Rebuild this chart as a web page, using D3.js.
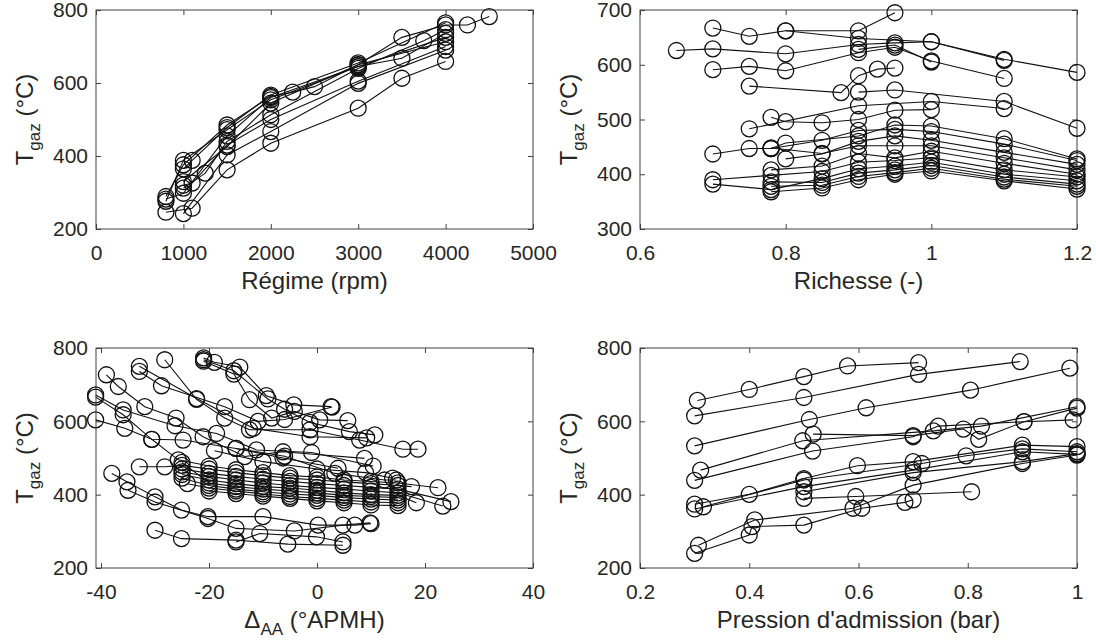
<!DOCTYPE html>
<html><head><meta charset="utf-8">
<script src="https://cdn.jsdelivr.net/npm/d3@7"></script>
<style>
body{margin:0;background:#fff}
text{font-family:"Liberation Sans",Arial,Helvetica,sans-serif;fill:#262626}
</style></head>
<body><svg id="c" width="1096" height="642"></svg>
<script>
// ---------- DATA ----------
// Panel 1 : Régime (rpm) vs T_gaz
const regimeTicks = [0, 1000, 2000, 3000, 4000, 5000];
const regimeTempTicks = [200, 400, 600, 800];
const regimeSeries = [
  [[800,289],[1000,376],[1500,485],[2000,563],[2250,575],[2500,590],[3000,650],[3500,725],[4000,759],[4250,759],[4500,782]],
  [[800,276],[1000,388],[1500,472],[2000,554],[3000,645],[3500,668],[4000,736]],
  [[800,246],[1100,257],[1500,362],[2000,435],[3000,531],[3500,613],[4000,659]],
  [[1000,242],[1500,403],[2000,467],[3000,599],[4000,690]],
  [[1000,312],[1250,353],[1500,440],[2000,513],[3000,640],[3750,716],[4000,746]],
  [[1000,330],[1500,426],[2000,545],[3000,650],[4000,713]],
  [[800,282],[1000,298],[1500,455],[2000,560],[3000,645],[4000,725]],
  [[1000,320],[1100,326],[1500,430],[2000,500],[3000,605],[4000,700]],
  [[1000,365],[1100,388],[1500,478],[2000,567],[3000,655],[4000,765]]
];

// Panel 2 : Richesse (-) vs T_gaz
const richTicks = [0.6, 0.8, 1, 1.2];
const richTempTicks = [300, 400, 500, 600, 700];
const richSeries = [
  [[0.70,667],[0.75,652],[0.80,662],[0.90,662],[0.95,695]],
  [[0.80,662],[0.90,648],[1.0,642],[1.1,610],[1.2,586]],
  [[0.65,626],[0.70,629],[0.80,620],[0.90,637],[0.95,640],[1.0,642],[1.1,608]],
  [[0.70,591],[0.75,597],[0.80,589],[0.90,622],[0.95,632],[1.0,607],[1.1,575]],
  [[0.90,628],[0.95,636],[1.0,605]],
  [[0.75,561],[0.876,549],[0.90,580],[0.926,592],[0.95,594]],
  [[0.90,550],[0.95,554],[1.1,533],[1.2,484]],
  [[0.75,483],[0.90,525],[1.0,533],[1.1,520]],
  [[0.78,504],[0.80,496],[0.85,494],[0.90,500],[0.95,517],[1.0,518]],
  [[0.70,437],[0.75,447],[0.78,447],[0.80,457],[0.90,470],[0.95,490],[1.0,488],[1.1,465],[1.2,428]],
  [[0.78,447],[0.85,462],[0.90,480],[0.95,482],[1.0,478],[1.1,455],[1.2,425]],
  [[0.80,428],[0.85,437],[0.90,460],[0.95,470],[1.0,462],[1.1,440],[1.2,418]],
  [[0.78,448],[0.85,438],[0.90,452],[0.95,452],[1.0,452],[1.1,430],[1.2,408]],
  [[0.78,408],[0.85,415],[0.90,438],[0.95,430],[1.0,442],[1.1,420],[1.2,400]],
  [[0.70,390],[0.78,398],[0.85,405],[0.90,422],[0.95,425],[1.0,430],[1.1,408],[1.2,395]],
  [[0.70,382],[0.78,372],[0.85,392],[0.90,410],[0.95,415],[1.0,422],[1.1,400],[1.2,388]],
  [[0.78,386],[0.85,385],[0.90,402],[0.95,408],[1.0,416],[1.1,395],[1.2,382]],
  [[0.78,378],[0.85,380],[0.90,396],[0.95,403],[1.0,411],[1.1,391],[1.2,378]],
  [[0.78,368],[0.85,375],[0.90,390],[0.95,400],[1.0,406],[1.1,388],[1.2,373]]
];

// Panel 3 : Delta_AA (°APMH) vs T_gaz
const avanceTicks = [-40, -20, 0, 20, 40];
const avanceTempTicks = [200, 400, 600, 800];
const avanceSeries = [
  [[-21,773],[-19,761],[-14.3,748],[-9.4,670],[-4.3,645],[2.6,640]],
  [[-21,764],[-15.4,729],[-12.5,659],[-8.4,609],[-4.2,627],[0.5,604],[5.7,602]],
  [[-21,768],[-15.4,738],[-9.1,661],[-6,633],[-1.3,597],[6,572],[10.7,563]],
  [[-28.2,768],[-22.3,660],[-17.1,609],[-12.5,577],[-1.3,577],[7.9,549],[15.9,524],[18.7,524]],
  [[-32.9,750],[-22.3,662],[-11.8,581],[-1.3,558],[9.2,555]],
  [[-32.9,736],[-28.8,697],[-17.1,640],[-10.9,600],[-6,605],[2.8,639]],
  [[-39,727],[-36.8,695],[-31.9,640],[-26.1,609],[-21.1,558],[-13.4,504],[-6.3,517],[8.8,499]],
  [[-41,672],[-35.9,631],[-26.3,588],[-18.6,567],[-11.2,522],[-1,515],[10.4,478]],
  [[-41,666],[-35.9,618],[-30.6,551],[-24.8,549],[-15,526],[-6.3,500],[3.9,472]],
  [[-41,604],[-35.6,581],[-30.6,551],[-25.7,495],[-20,478],[-15,468],[-10,460],[-5,452],[0,448],[5,440],[10,436],[15,432],[22.4,419]],
  [[-32.9,476],[-28.2,476],[-25,480],[-20,470],[-15,460],[-10,452],[-5,445],[0,440],[5,435],[10,430],[15,425],[17.5,422]],
  [[-25,470],[-20,458],[-15,450],[-10,442],[-5,436],[0,430],[5,425],[10,420],[15,415],[24.8,381]],
  [[-25,462],[-20,450],[-15,440],[-10,432],[-5,425],[0,420],[5,415],[10,410],[15,405],[23.3,369]],
  [[-25,455],[-20,440],[-15,430],[-10,422],[-5,418],[0,412],[5,405],[10,400],[15,398],[18.4,378]],
  [[-25,488],[-20,432],[-15,422],[-10,415],[-5,410],[0,405],[5,398],[10,395],[15,392]],
  [[-25,445],[-20,425],[-15,415],[-10,408],[-5,402],[0,398],[5,392],[10,388],[15,385]],
  [[-24,430],[-20,418],[-15,410],[-10,402],[-5,395],[0,390],[5,385],[10,380],[15,378]],
  [[-20,410],[-15,403],[-10,396],[-5,390],[0,383],[5,378],[10,372],[15,370]],
  [[-15,526],[-6,505],[3.3,458],[12.5,440],[14.7,440]],
  [[-19,520],[-10,490],[0,470],[9,460],[14,445]],
  [[-38,458],[-35.2,435],[-30,394],[-25.1,358],[-20.2,340],[-10,340],[0.2,317],[7,317],[10,321]],
  [[-35,412],[-30,380],[-20.2,335],[-15,308],[-4.2,301],[4.8,317],[9.8,323]],
  [[-30,303],[-25.1,280],[-15,276],[-5.4,265],[4.8,262]],
  [[-15,271],[-10.6,294],[-0.1,285],[4.8,271]]
];

// Panel 4 : Pression d'admission (bar) vs T_gaz
const pressTicks = [0.2, 0.4, 0.6, 0.8, 1];
const pressTempTicks = [200, 400, 600, 800];
const pressSeries = [
  [[0.305,657],[0.40,687],[0.50,722],[0.58,751],[0.71,760]],
  [[0.30,615],[0.50,665],[0.71,728],[0.896,763]],
  [[0.30,533],[0.51,605],[0.614,637],[0.805,685],[0.987,745]],
  [[0.311,467],[0.498,547],[0.737,574],[0.825,587],[1.0,640]],
  [[0.517,565],[0.70,561],[0.792,579],[0.82,551],[0.903,599],[1.0,636]],
  [[0.30,439],[0.516,519],[0.70,558],[0.746,587],[0.903,599],[0.993,604]],
  [[0.30,374],[0.40,401],[0.50,444],[0.598,479],[0.70,490],[0.90,535],[1.0,531]],
  [[0.316,367],[0.50,440],[0.716,485],[0.797,506],[0.90,525],[1.0,517]],
  [[0.30,361],[0.50,422],[0.70,467],[0.90,517],[1.0,510]],
  [[0.50,408],[0.70,460],[0.90,490],[1.0,512]],
  [[0.50,390],[0.595,395],[0.807,408]],
  [[0.307,262],[0.41,331],[0.59,363],[0.70,426],[0.90,485],[1.0,508]],
  [[0.30,240],[0.40,290],[0.405,313],[0.50,317],[0.606,363],[0.685,379],[0.70,386]]
];

// ---------- DRAW ----------
const svg = d3.select("#c");
svg.append("rect").attr("width",1096).attr("height",642).attr("fill","#fff");
const FONT = '"Liberation Sans",Arial,Helvetica,sans-serif';
const fmt = d => String(d);

function drawPanel(cfg){
  const x = d3.scaleLinear().domain(cfg.xDomain).range([cfg.left, cfg.right]);
  const y = d3.scaleLinear().domain(cfg.yDomain).range([cfg.bottom, cfg.top]);
  const g = svg.append("g");
  const ax = (gen, tr, labels) => {
    const a = g.append("g").attr("transform", tr).call(gen);
    a.select(".domain").remove();
    a.selectAll("line").attr("stroke","#404040").attr("stroke-width",1);
    if (labels) a.selectAll("text").attr("font-size",21).attr("font-family",FONT).attr("fill","#262626");
    else a.selectAll("text").remove();
  };
  ax(d3.axisBottom(x).tickValues(cfg.xTicks).tickFormat(fmt).tickSize(-5).tickPadding(16), `translate(0,${cfg.bottom})`, true);
  ax(d3.axisTop(x).tickValues(cfg.xTicks).tickSize(-5), `translate(0,${cfg.top})`, false);
  ax(d3.axisLeft(y).tickValues(cfg.yTicks).tickFormat(fmt).tickSize(-5).tickPadding(8), `translate(${cfg.left},0)`, true);
  ax(d3.axisRight(y).tickValues(cfg.yTicks).tickSize(-5), `translate(${cfg.right},0)`, false);
  g.append("rect").attr("x",cfg.left).attr("y",cfg.top)
    .attr("width",cfg.right-cfg.left).attr("height",cfg.bottom-cfg.top)
    .attr("fill","none").attr("stroke","#404040").attr("stroke-width",1);

  const line = d3.line().x(d=>x(d[0])).y(d=>y(d[1]));
  g.append("g").selectAll("path").data(cfg.series).join("path")
    .attr("d", line).attr("fill","none").attr("stroke","#111").attr("stroke-width",1.1);
  g.append("g").selectAll("circle").data(cfg.series.flat()).join("circle")
    .attr("cx", d=>x(d[0])).attr("cy", d=>y(d[1])).attr("r",8)
    .attr("fill","none").attr("stroke","#111").attr("stroke-width",1.3);

  // y label
  const yl = g.append("text")
    .attr("transform", `translate(${cfg.left-63},${(cfg.top+cfg.bottom)/2}) rotate(-90)`)
    .attr("text-anchor","middle").attr("font-size",24).attr("font-family",FONT);
  yl.append("tspan").text("T");
  yl.append("tspan").attr("font-size",17).attr("dy",7).text("gaz");
  yl.append("tspan").attr("dy",-7).text(" (°C)");

  // x label
  const xl = g.append("text")
    .attr("x",(cfg.left+cfg.right)/2).attr("y",cfg.bottom+60)
    .attr("text-anchor","middle").attr("font-size",24).attr("font-family",FONT);
  cfg.xLabel(xl);
}

drawPanel({left:96,right:533,top:10,bottom:229,xDomain:[0,5000],yDomain:[200,800],
  xTicks:regimeTicks,yTicks:regimeTempTicks,series:regimeSeries,
  xLabel:t=>t.text("Régime (rpm)")});
drawPanel({left:640,right:1077,top:10,bottom:229,xDomain:[0.6,1.2],yDomain:[300,700],
  xTicks:richTicks,yTicks:richTempTicks,series:richSeries,
  xLabel:t=>t.text("Richesse (-)")});
drawPanel({left:96,right:533,top:348,bottom:568,xDomain:[-40.93,40],yDomain:[200,800],
  xTicks:avanceTicks,yTicks:avanceTempTicks,series:avanceSeries,
  xLabel:t=>{t.append("tspan").text("Δ");t.append("tspan").attr("font-size",17).attr("dy",7).text("AA");t.append("tspan").attr("dy",-7).text(" (°APMH)");}});
drawPanel({left:640,right:1077,top:348,bottom:568,xDomain:[0.2,1],yDomain:[200,800],
  xTicks:pressTicks,yTicks:pressTempTicks,series:pressSeries,
  xLabel:t=>t.text("Pression d'admission (bar)")});
</script></body></html>
